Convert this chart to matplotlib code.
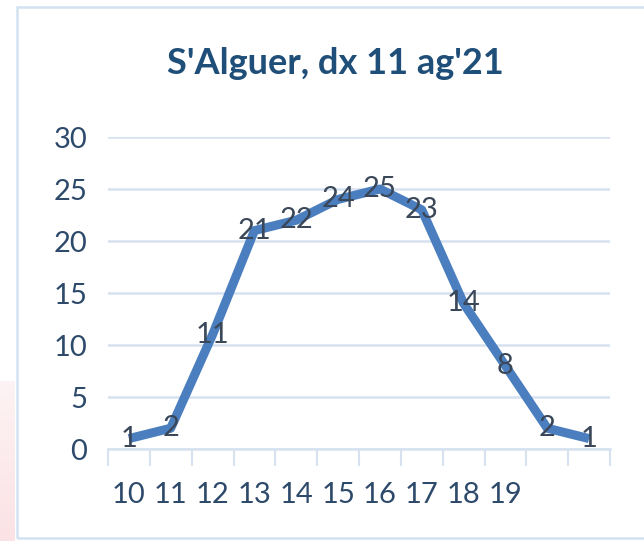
import matplotlib
matplotlib.use('Agg')
import matplotlib.pyplot as plt
from matplotlib.patches import Rectangle
import numpy as np

title = "S'Alguer, dx 11 ag'21"
hour_labels = ["10", "11", "12", "13", "14", "15", "16", "17", "18", "19", "", ""]
values = [1, 2, 11, 21, 22, 24, 25, 23, 14, 8, 2, 1]
y_ticks = [0, 5, 10, 15, 20, 25, 30]

line_color = "#4a7ebf"
grid_color = "#d6e2f0"
label_color = "#3a4758"
tick_color = "#2e4a6b"
title_color = "#1f4e79"

plt.rcParams['font.family'] = ['Lato', 'DejaVu Sans']

fig = plt.figure(figsize=(6.44, 5.41), dpi=100)

# faint pink strip on the far left and the chart frame
grad = np.linspace(0, 1, 50).reshape(-1, 1)
strip = fig.add_axes([0, 0, 15 / 644, 160 / 541], zorder=0)
strip.imshow(grad, aspect="auto", cmap=matplotlib.colors.LinearSegmentedColormap.from_list(
    "pk", ["#fbe2e5", "#fdf3f4"]), origin="lower")
strip.axis("off")
fig.patches.append(Rectangle((17 / 644, 1 - 538 / 541), 1.0, (538 - 7) / 541,
                             transform=fig.transFigure, fill=False,
                             edgecolor="#d3e2f1", linewidth=1.8, zorder=1))

ax = fig.add_axes([108 / 644, 1 - 449 / 541, (610 - 108) / 644, (449 - 137) / 541])
x = np.arange(len(values))
ax.plot(x, values, color=line_color, linewidth=6.5, solid_joinstyle="round",
        solid_capstyle="butt", zorder=3)
for xi, v in zip(x, values):
    ax.text(xi, v, str(v), ha="center", va="center", fontsize=21,
            color=label_color, zorder=4)

ax.set_xlim(-0.5, len(values) - 0.5)
ax.set_ylim(0, 30)
ax.set_yticks(y_ticks)
ax.set_xticks(np.arange(-0.5, len(values), 1.0))
ax.set_xticklabels([])
ax.set_xticks(x, minor=True)
ax.set_xticklabels(hour_labels, minor=True)
ax.tick_params(axis="x", which="major", length=12, width=1.5, color=grid_color,
               direction="out")
ax.tick_params(axis="x", which="minor", length=0, pad=24, labelsize=21,
               labelcolor=tick_color)
ax.tick_params(axis="y", length=0, pad=15, labelsize=21, labelcolor=tick_color)
ax.grid(axis="y", color=grid_color, linewidth=1.8)
ax.set_axisbelow(True)
for side in ["top", "right", "left"]:
    ax.spines[side].set_visible(False)
ax.spines["bottom"].set_color(grid_color)
ax.spines["bottom"].set_linewidth(1.8)

fig.text(335 / 644, 1 - 64 / 541, title, ha="center", va="center",
         fontsize=26, fontweight="bold", color=title_color)

fig.savefig("out.png", dpi=100)
